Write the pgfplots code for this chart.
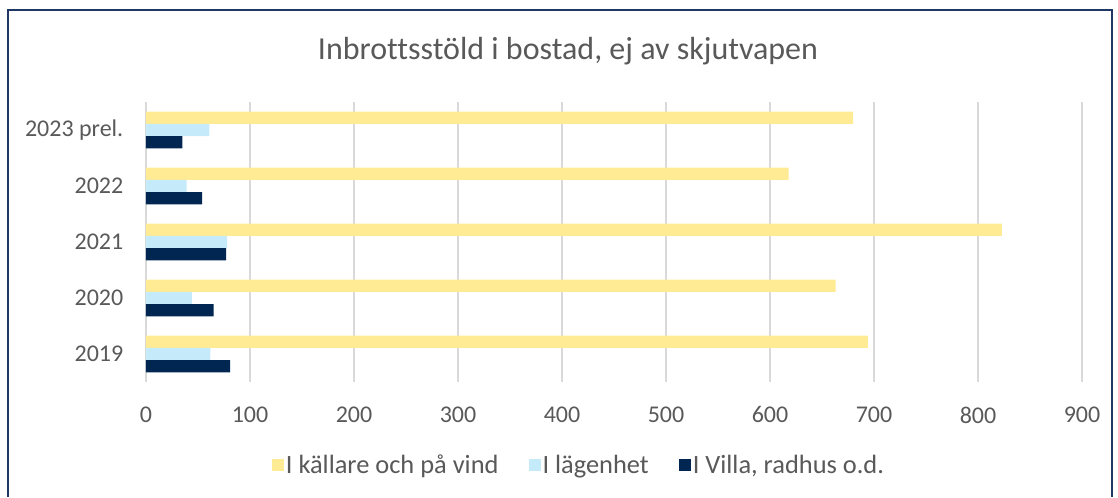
\documentclass[border=0pt]{standalone}
\usepackage{fontspec}
\setmainfont{Carlito}[Ligatures=NoCommon]
\usepackage{pgfplots}
\pgfplotsset{compat=1.18}
\definecolor{cYel}{HTML}{FFEB94}
\definecolor{cLb}{HTML}{C5EBFB}
\definecolor{cDk}{HTML}{002651}
\definecolor{cTxt}{HTML}{595959}
\definecolor{cGrid}{HTML}{D9D9D9}
\definecolor{cFrame}{HTML}{1F3864}
\begin{document}
\begin{tikzpicture}[x=0.75pt,y=0.75pt]
\draw[cFrame,line width=1.5pt] (7.5,0) -- (7.5,487) -- (1112,487) -- (1112,0);
\node[text=cTxt,font=\fontsize{24}{28}\selectfont] at (568,446) {Inbrottsstöld i bostad, ej av skjutvapen};
\begin{axis}[
  at={(109.5pt,86.25pt)}, anchor=south west,
  scale only axis, width=702pt, height=210pt,
  xbar, bar width=9.2pt,
  xmin=0, xmax=900, ymin=-0.5, ymax=4.5,
  enlargelimits=false,
  xtick={0,100,...,900},
  ytick={0,1,2,3,4},
  yticklabels={2019,2020,2021,2022,2023 prel.},
  axis line style={draw=none},
  major tick length=0pt,
  xmajorgrids, grid style={cGrid,line width=1.2pt},
  tick label style={text=cTxt,font=\fontsize{18}{21}\selectfont},
  /pgf/number format/assume math mode=true,
  xticklabel style={yshift=-15pt},
  yticklabel style={xshift=-13.5pt},
  legend style={at={(0.4626,-0.296)},anchor=center,draw=none,
    legend columns=3, font=\fontsize{19.8}{23}\selectfont, text=cTxt,
    /tikz/every even column/.append style={column sep=21pt},
    nodes={inner xsep=1.5pt}},
  legend image code/.code={\fill[#1] (0pt,-4.5pt) rectangle (9pt,4.5pt);},
]
\addplot[fill=cYel,draw=none,bar shift=9.2pt] coordinates {(694,0) (663,1) (823,2) (618,3) (680,4)};
\addplot[fill=cLb,draw=none,bar shift=0pt] coordinates {(62,0) (44,1) (78,2) (39,3) (61,4)};
\addplot[fill=cDk,draw=none,bar shift=-9.2pt] coordinates {(81,0) (65,1) (77,2) (54,3) (35,4)};
\legend{I källare och på vind,I lägenhet,{I Villa, radhus o.d.}}
\end{axis}
\useasboundingbox (0,0) rectangle (1118,497);
\end{tikzpicture}
\end{document}
